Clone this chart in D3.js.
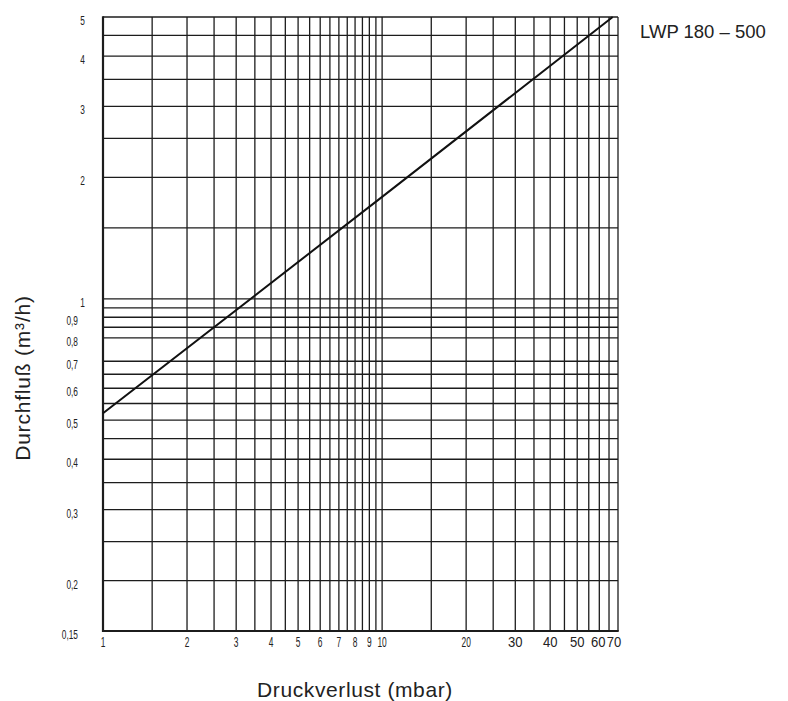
<!DOCTYPE html>
<html>
<head>
<meta charset="utf-8">
<script src="https://cdn.jsdelivr.net/npm/d3@7"></script>
<style>
  html, body { margin: 0; padding: 0; background: #fff; }
  svg { display: block; }
</style>
</head>
<body>
<svg id="chart" width="788" height="701"></svg>
<script>
// ---- data ----
const xGrid = [1,1.5,2,2.5,3,3.5,4,4.5,5,5.5,6,6.5,7,7.5,8,8.5,9,9.5,10,15,20,25,30,35,40,45,50,55,60,65,70];
const yGrid = [0.15,0.2,0.25,0.3,0.35,0.4,0.45,0.5,0.55,0.6,0.65,0.7,0.8,0.85,0.9,0.95,1,1.5,2,2.5,3,3.5,4,4.5,5];
const xTickLabels = [1,2,3,4,5,6,7,8,9,10,20,30,40,50,60,70];
const yTickLabels = [5,4,3,2,1,0.9,0.8,0.7,0.6,0.5,0.4,0.3,0.2,0.15];
const pressureDrop = [1, 10, 67];      // mbar
const flowRate     = [0.52, 1.79, 5];  // m³/h
const seriesName = "LWP 180 – 500";
const xTitle = "Druckverlust (mbar)";
const yTitle = "Durchfluß (m³/h)";

// ---- layout ----
const L = 103, R = 618, T = 17, B = 631;
const svg = d3.select("#chart");
const x = d3.scaleLog().domain([1, 70]).range([L, R]);
const y = d3.scaleLog().domain([0.15, 5]).range([B, T]);
const ink = "#1c1c1c";
const sans = "'Liberation Sans', Arial, sans-serif";

// grid
svg.append("g").selectAll("line").data(xGrid).join("line")
  .attr("x1", d => x(d)).attr("x2", d => x(d))
  .attr("y1", T).attr("y2", B)
  .attr("stroke", ink).attr("stroke-width", 1.3);
svg.append("g").selectAll("line").data(yGrid).join("line")
  .attr("x1", L).attr("x2", R)
  .attr("y1", d => y(d)).attr("y2", d => y(d))
  .attr("stroke", ink).attr("stroke-width", 1.3);

// frame (left & bottom heavier)
svg.append("line").attr("x1", L).attr("x2", L).attr("y1", T - 0.7).attr("y2", B + 1)
  .attr("stroke", ink).attr("stroke-width", 2.2);
svg.append("line").attr("x1", L - 1).attr("x2", R + 0.7).attr("y1", B).attr("y2", B)
  .attr("stroke", ink).attr("stroke-width", 2.2);

// flow line
const pts = pressureDrop.map((d, i) => [d, flowRate[i]]);
svg.append("path").datum(pts)
  .attr("d", d3.line().x(d => x(d[0])).y(d => y(d[1])))
  .attr("fill", "none").attr("stroke", "#111").attr("stroke-width", 2);

// x tick labels
const fmt = d => String(d).replace(".", ",");
svg.append("g").selectAll("text").data(xTickLabels).join("text")
  .attr("transform", d => `translate(${x(d) + (d === 70 ? -4 : d === 60 ? -1 : 0)},647) scale(${d >= 30 ? 0.9 : 0.6},1)`)
  .attr("text-anchor", "middle")
  .attr("font-family", sans)
  .attr("font-size", d => d >= 30 ? 14.5 : 14)
  .attr("fill", "#222")
  .text(fmt);

// y tick labels
svg.append("g").selectAll("text").data(yTickLabels).join("text")
  .attr("transform", d => `translate(${d >= 1 ? 85 : 78},${y(d) + 8}) scale(0.64,1)`)
  .attr("text-anchor", "end")
  .attr("font-family", sans)
  .attr("font-size", 13)
  .attr("fill", "#222")
  .text(fmt);

// titles
svg.append("text").attr("x", 640).attr("y", 38)
  .attr("font-family", sans)
  .attr("font-size", 18.5).attr("fill", "#222")
  .text(seriesName);

svg.append("text").attr("x", 355).attr("y", 697)
  .attr("text-anchor", "middle")
  .attr("font-family", sans)
  .attr("font-size", 21).attr("letter-spacing", 0.6).attr("fill", "#222")
  .text(xTitle);

svg.append("text").attr("transform", "translate(30,378) rotate(-90)")
  .attr("text-anchor", "middle")
  .attr("font-family", sans)
  .attr("font-size", 21).attr("letter-spacing", 0.8).attr("fill", "#222")
  .text(yTitle);
</script>
</body>
</html>
